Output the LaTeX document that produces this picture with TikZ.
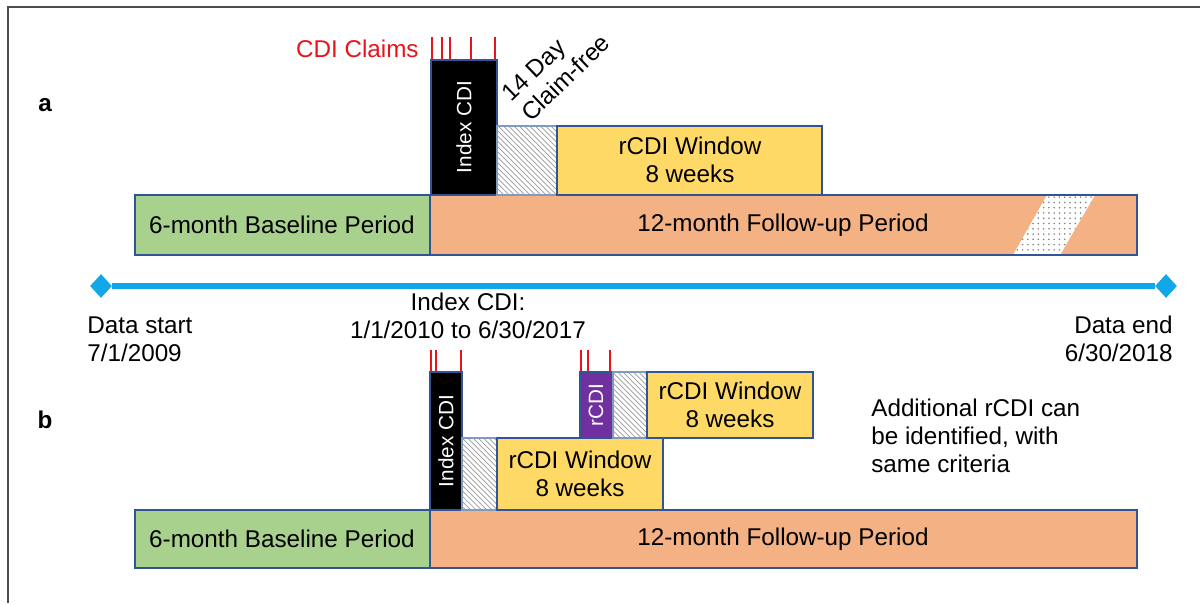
\documentclass[tikz,border=0pt]{standalone}
\usepackage{fontspec}
\setmainfont{Liberation Sans}
\usetikzlibrary{patterns,shapes.geometric}

\definecolor{basegreen}{HTML}{A9D18E}
\definecolor{followorange}{HTML}{F4B183}
\definecolor{windowyellow}{HTML}{FFD966}
\definecolor{rcdipurple}{HTML}{7030A0}
\definecolor{boxblue}{HTML}{2F5597}
\definecolor{lineblue}{HTML}{12A8E8}
\definecolor{claimred}{HTML}{E8141B}

\begin{document}
\begin{tikzpicture}[x=0.02cm,y=-0.02cm,
   every node/.style={inner sep=0pt, font=\fontsize{13.8}{16}\selectfont},
   box/.style={draw=boxblue, line width=1.1pt},
   hatch/.style={draw=boxblue!60, line width=.6pt, pattern=north west lines, pattern color=gray!80},
   tick/.style={draw=claimred, line width=1.3pt},
   rotlabel/.style={rotate=90, text=white, font=\fontsize{11.8}{14}\selectfont},
   panel/.style={font=\fontsize{13.8}{16}\selectfont\bfseries},
   ends/.style={diamond, fill=lineblue, inner sep=0pt, minimum width=0.44cm, minimum height=0.48cm}]
   \useasboundingbox (0,0) rectangle (1200,603);
   \draw[gray!60!black, line width=1.1pt] (8,603) -- (8,7) -- (1200,7);

   % panel a
   \node[panel] (laba) at (45,105) {a};
   \draw[box, fill=basegreen] (135,195) rectangle (430,255);
   \draw[box, fill=followorange] (430,195) rectangle (1137,255);
   \fill[white] (1013,255) -- (1047,195) -- (1095,195) -- (1060,255) -- cycle;
   \fill[pattern=dots, pattern color=gray] (1013,255) -- (1047,195) -- (1095,195) -- (1060,255) -- cycle;
   \draw[box] (430,195) rectangle (1137,255);
   \draw[fill=black, draw=boxblue, line width=.8pt] (431,60) rectangle (497,195);
   \draw[hatch] (497,126) rectangle (557,195);
   \draw[box, fill=windowyellow] (557,126) rectangle (822,195);

   \draw[tick] (432,37) -- (432,59);
   \draw[tick] (442,37) -- (442,59);
   \draw[tick] (450,37) -- (450,59);
   \draw[tick] (471,37) -- (471,59);
   \draw[tick] (495,37) -- (495,59);

   \node[text=claimred, anchor=east] (claimsa) at (419,49) {CDI Claims};
   \node[rotlabel] (indexa) at (464,127) {Index CDI};
   \node[rotate=44, align=left] (freea) at (556,68) {14 Day\\Claim-free};
   \node[align=center] (windowa) at (690,160) {rCDI Window\\8 weeks};
   \node (basea) at (282,225) {6-month Baseline Period};
   \node (followa) at (783,225) {12-month Follow-up Period};

   % data range
   \node[ends] (dstart) at (101,286) {};
   \node[ends] (dend) at (1166,286) {};
   \draw[lineblue, line width=3.4pt] (dstart) -- (dend);
   \node[anchor=west, align=left] (start) at (87,339) {Data start\\7/1/2009};
   \node[anchor=east, align=right] (end) at (1173,339) {Data end\\6/30/2018};
   \node[align=center] (range) at (468,316) {Index CDI:\\1/1/2010 to 6/30/2017};

   % panel b
   \node[panel] (labb) at (45,420) {b};
   \draw[box, fill=basegreen] (135,510) rectangle (430,568);
   \draw[box, fill=followorange] (430,510) rectangle (1137,568);
   \draw[fill=black, draw=boxblue, line width=.8pt] (430,372) rectangle (462,510);
   \draw[hatch] (462,438) rectangle (497,510);
   \draw[box, fill=windowyellow] (497,438) rectangle (663,510);
   \draw[fill=rcdipurple, draw=boxblue, line width=.8pt] (580,372) rectangle (613,438);
   \draw[hatch] (613,372) rectangle (647,438);
   \draw[box, fill=windowyellow] (647,372) rectangle (813,438);

   \draw[tick] (431,350) -- (431,372);
   \draw[tick] (436,350) -- (436,372);
   \draw[tick] (461,350) -- (461,372);
   \draw[tick] (581,350) -- (581,372);
   \draw[tick] (588,350) -- (588,372);
   \draw[tick] (610,350) -- (610,372);

   \node[rotlabel] (indexb) at (446,441) {Index CDI};
   \node[rotlabel] (rcdib) at (596,405) {rCDI};
   \node[align=center] (windowb) at (580,474) {rCDI Window\\8 weeks};
   \node[align=center] (nextb) at (730,405) {rCDI Window\\8 weeks};
   \node[anchor=west, align=left] (extra) at (871,436) {Additional rCDI can\\be identified, with\\same criteria};
   \node (baseb) at (282,539) {6-month Baseline Period};
   \node (followb) at (783,539) {12-month Follow-up Period};
\end{tikzpicture}
\end{document}
